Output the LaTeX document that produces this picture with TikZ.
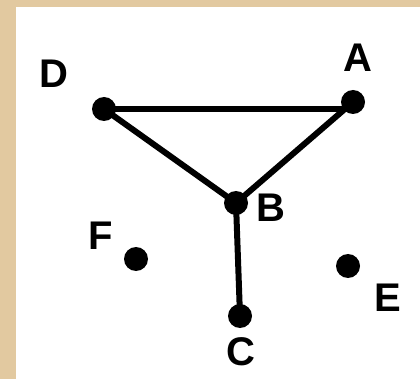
\documentclass[tikz,border=0pt]{standalone}
\usepackage{fontspec}
\setmainfont{Liberation Sans}
\definecolor{tan}{RGB}{226,201,160}
\begin{document}
\begin{tikzpicture}[x=1pt,y=-1pt,
  dot/.style={circle,fill=black,inner sep=0pt,minimum size=24pt},
  lbl/.style={font=\fontsize{40}{40}\selectfont\bfseries,inner sep=0pt},
  edge/.style={line width=6pt}]
\fill[tan] (0,0) rectangle (420,379);
\fill[white] (16,7) rectangle (420,379);
\useasboundingbox (0,0) rectangle (420,379);
\node[dot] (D) at (104,109) {};
\node[dot] (A) at (353,102) {};
\node[dot] (B) at (236,203) {};
\node[dot] (C) at (240,316) {};
\node[dot] (F) at (136,259) {};
\node[dot] (E) at (348,266) {};
\node[lbl] (lD) at (54,74) {D};
\node[lbl] (lA) at (358,58) {A};
\node[lbl] (lB) at (271,208) {B};
\node[lbl] (lF) at (101,236) {F};
\node[lbl] (lE) at (388,298) {E};
\node[lbl] (lC) at (241,352) {C};
\draw[edge] (D.center) -- (D -| A);
\draw[edge] (D.center) -- (B.center);
\draw[edge] (A.center) -- (B.center);
\draw[edge] (B.center) -- (C.center);
\end{tikzpicture}
\end{document}
